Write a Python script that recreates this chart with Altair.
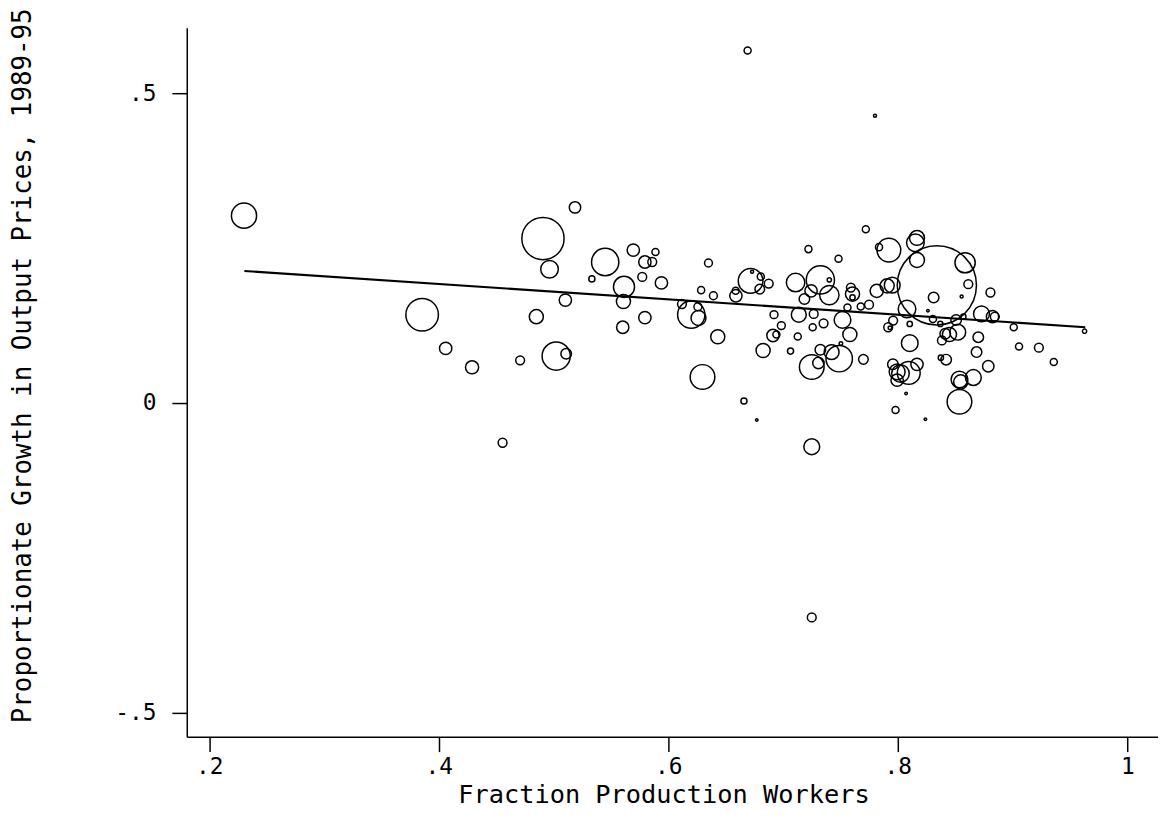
import altair as alt
import pandas as pd

# Fraction production workers (x), proportionate growth in output prices 1989-95 (y), industry weight
frac_prod = [
    0.2303, 0.4908, 0.4965, 0.5187, 0.3855, 0.4060, 0.4290, 0.4709, 0.4850, 0.5023,
    0.5110, 0.5103, 0.5450, 0.5334, 0.5614, 0.5609, 0.5695, 0.5796, 0.5860, 0.5888,
    0.5773, 0.5940, 0.5603, 0.5796, 0.6350, 0.6286, 0.6393, 0.6119, 0.6200, 0.6263,
    0.6258, 0.6431, 0.6298, 0.6659, 0.6771, 0.6589, 0.6587, 0.6717, 0.6730, 0.6806,
    0.6797, 0.6875, 0.6921, 0.6985, 0.6912, 0.6942, 0.6826, 0.7065, 0.7128, 0.7109,
    0.7137, 0.7221, 0.7244, 0.7186, 0.7267, 0.7353, 0.7258, 0.7325, 0.7403, 0.7403,
    0.7483, 0.7250, 0.7308, 0.7325, 0.7423, 0.7489, 0.7504, 0.7582, 0.7518, 0.7561,
    0.7605, 0.7591, 0.7605, 0.7677, 0.7749, 0.7816, 0.7721, 0.7700, 0.7922, 0.7836,
    0.7907, 0.7951, 0.7916, 0.7959, 0.7931, 0.7957, 0.7994, 0.8023, 0.7994, 0.8095,
    0.8167, 0.7980, 0.8072, 0.8240, 0.8104, 0.8080, 0.8104, 0.8167, 0.8153, 0.8167,
    0.8340, 0.8586, 0.8614, 0.8556, 0.8312, 0.8262, 0.8306, 0.8370, 0.8413, 0.8384,
    0.8450, 0.8522, 0.8508, 0.8571, 0.8375, 0.8421, 0.8537, 0.8548, 0.8658, 0.8537,
    0.8701, 0.8686, 0.8788, 0.8729, 0.8825, 0.8845, 0.8807, 0.9010, 0.9056, 0.9229,
    0.9359, 0.9627, 0.6691, 0.7801, 0.4556, 0.7250, 0.7250,
]
price_growth = [
    0.3024, 0.2655, 0.2159, 0.3157, 0.1426, 0.0881, 0.0577, 0.0689, 0.1394, 0.0758,
    0.0796, 0.1662, 0.2276, 0.2003, 0.1875, 0.1639, 0.2468, 0.2276, 0.2276, 0.2436,
    0.2035, 0.1939, 0.1223, 0.1378, 0.2260, 0.1822, 0.1731, 0.1598, 0.1426, 0.1373,
    0.1554, 0.1069, 0.0421, 0.0032, -0.0272, 0.1731, 0.1811, 0.1971, 0.2120, 0.2040,
    0.1838, 0.1928, 0.1426, 0.1250, 0.1090, 0.1106, 0.0849, 0.0838, 0.1074, 0.1944,
    0.1426, 0.2484, 0.1811, 0.1678, 0.1438, 0.1287, 0.1223, 0.1987, 0.1987, 0.1742,
    0.2329, 0.0582, 0.0646, 0.0861, 0.0822, 0.0716, 0.0962, 0.1106, 0.1341, 0.1543,
    0.1758, 0.1864, 0.1704, 0.1559, 0.1587, 0.1811, 0.2804, 0.0705, 0.2468, 0.2516,
    0.1891, 0.1902, 0.1223, 0.1330, 0.1213, 0.0625, 0.0502, 0.0476, 0.0369, 0.0486,
    0.0625, -0.0112, 0.0155, -0.0261, 0.0966, 0.1518, 0.1277, 0.2665, 0.2585, 0.2308,
    0.1899, 0.2264, 0.1918, 0.1720, 0.1704, 0.1490, 0.1357, 0.1277, 0.1117, 0.1010,
    0.1106, 0.1143, 0.1341, 0.1394, 0.0732, 0.0700, 0.0380, 0.0341, 0.0412, 0.0021,
    0.1063, 0.0822, 0.0593, 0.1438, 0.1394, 0.1394, 0.1784, 0.1223, 0.0913, 0.0893,
    0.0662, 0.1159, 0.5689, 0.4636, -0.0641, -0.0705, -0.3460,
]
weight = [
    204, 576, 100, 42, 342, 49, 56, 25, 64, 256,
    36, 49, 240, 12, 144, 64, 49, 49, 25, 16,
    25, 49, 49, 49, 20, 16, 20, 25, 240, 72,
    20, 64, 196, 12, 2, 49, 16, 196, 3, 16,
    30, 25, 20, 20, 49, 16, 64, 12, 16, 110,
    72, 16, 49, 36, 25, 25, 16, 256, 6, 121,
    16, 196, 42, 36, 72, 225, 4, 64, 90, 16,
    64, 25, 9, 16, 25, 56, 16, 30, 182, 16,
    64, 81, 25, 25, 4, 36, 81, 100, 49, 169,
    49, 16, 2, 2, 90, 100, 9, 72, 100, 72,
    2025, 132, 25, 3, 36, 2, 16, 9, 36, 25,
    64, 81, 36, 9, 9, 36, 90, 64, 81, 196,
    36, 36, 42, 81, 49, 25, 25, 16, 16, 25,
    16, 6, 16, 3, 25, 81, 25,
]

# fitted (weighted) regression line endpoints
fit_x = [0.2306, 0.9633]
fit_y = [0.2131, 0.1223]

x_ticks = [0.2, 0.4, 0.6, 0.8, 1.0]
y_ticks = [-0.5, 0.0, 0.5]

points = pd.DataFrame({"frac": frac_prod, "growth": price_growth, "w": weight})
fit = pd.DataFrame({"frac": fit_x, "growth": fit_y})

FONT = "DejaVu Sans Mono"
label_expr = ("datum.value == 1 ? '1' : datum.value == 0 ? '0' : "
              "(datum.value < 0 ? '-' : '') + '.' + format(abs(datum.value) * 10, 'd')")

x_scale = alt.Scale(domain=[0.1804, 1.0267], nice=False, zero=False)
y_scale = alt.Scale(domain=[-0.5385, 0.6058], nice=False, zero=False)

x_axis = alt.Axis(values=x_ticks, title="Fraction Production Workers", labelExpr=label_expr,
                  grid=False, tickSize=15, tickWidth=1.5, tickColor="black",
                  domainColor="black", domainWidth=1.5, labelFont=FONT, labelFontSize=23,
                  labelColor="black", labelPadding=4, titleFont=FONT, titleFontSize=25.5,
                  titleFontWeight="normal", titleColor="black", titleX=480, titleY=58,
                  titleAnchor="middle", titleAlign="center", titleBaseline="middle")
y_axis = alt.Axis(values=y_ticks, title="Proportionate Growth in Output Prices, 1989-95",
                  labelExpr=label_expr, grid=False, tickSize=15, tickWidth=1.5,
                  tickColor="black", domainColor="black", domainWidth=1.5, labelFont=FONT,
                  labelFontSize=23, labelColor="black", labelPadding=16, titleFont=FONT,
                  titleFontSize=26, titleFontWeight="normal", titleColor="black",
                  titleX=-165, titleY=340, titleAngle=270, titleAlign="center",
                  titleBaseline="middle")

scatter = alt.Chart(points).mark_point(shape="circle", filled=False, color="black",
                                        strokeWidth=1.5, opacity=1).encode(
    x=alt.X("frac:Q", scale=x_scale, axis=x_axis),
    y=alt.Y("growth:Q", scale=y_scale, axis=y_axis),
    size=alt.Size("w:Q", scale=alt.Scale(domain=[0, 2025], range=[0, 6362], zero=True),
                  legend=None),
)

line = alt.Chart(fit).mark_line(color="black", strokeWidth=2.2).encode(
    x=alt.X("frac:Q", scale=x_scale),
    y=alt.Y("growth:Q", scale=y_scale),
)

chart = alt.layer(line, scatter).properties(
    width=978, height=714,
    autosize=alt.AutoSizeParams(type="none"),
    padding={"left": 180, "top": 17, "right": 0, "bottom": 70},
    view=alt.ViewBackground(stroke="transparent", strokeWidth=0),
).configure_view(strokeWidth=0, stroke="transparent").configure(background="white")

chart.save("out.html", embed_options={"renderer": "svg", "actions": False})
